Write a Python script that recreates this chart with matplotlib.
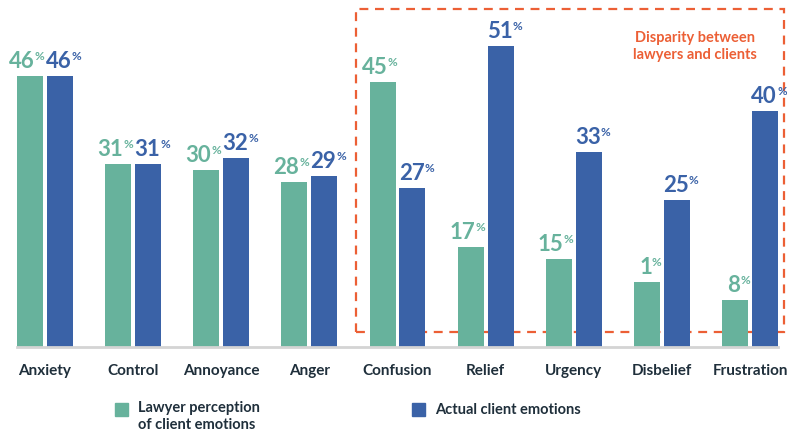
import matplotlib.pyplot as plt
from matplotlib.patches import Rectangle
import numpy as np

plt.rcParams['font.family'] = ['Lato', 'DejaVu Sans']

categories = ["Anxiety", "Control", "Annoyance", "Anger", "Confusion",
              "Relief", "Urgency", "Disbelief", "Frustration"]
lawyer = [46, 31, 30, 28, 45, 17, 15, 11, 8]
client = [46, 31, 32, 29, 27, 51, 33, 25, 40]
lawyer_labels = ["46", "31", "30", "28", "45", "17", "15", "1", "8"]
client_labels = ["46", "31", "32", "29", "27", "51", "33", "25", "40"]
legend_names = ["Lawyer perception\nof client emotions", "Actual client emotions"]
callout = "Disparity between\nlawyers and clients"

green = "#67b29c"
blue = "#3a62a7"
orange = "#ec5f35"
dark = "#1f2f3b"

W, H = 787, 434
fig = plt.figure(figsize=(W / 100, H / 100), dpi=100)
ax = fig.add_axes([17 / W, (H - 347) / H, (778 - 17) / W, (347 - 11) / H])

x = np.arange(len(categories))
bw = 0.295
off = 0.17
ax.bar(x - off, lawyer, bw, color=green, zorder=2)
ax.bar(x + off, client, bw, color=blue, zorder=2)

ax.set_xlim(-off - bw / 2, len(categories) - 1 + off + bw / 2)
ax.set_ylim(0, 57)

# value labels: big number + small superscript %
for xs, vals, labs, col, dx in [(x - off, lawyer, lawyer_labels, green, 5),
                                (x + off, client, client_labels, blue, 12)]:
    for xi, v, lab in zip(xs, vals, labs):
        ax.annotate(lab, (xi, v), xytext=(dx, 4), textcoords='offset pixels',
                    ha='right', va='bottom', fontsize=16, fontweight='bold',
                    color=col, zorder=3)
        ax.annotate("%", (xi, v), xytext=(dx, 14), textcoords='offset pixels',
                    ha='left', va='bottom', fontsize=8.5, fontweight='bold',
                    color=col, zorder=3)

# dashed box around the disparity groups
box = Rectangle((3.53, 2.5), 8.38 - 3.53, 57.4 - 2.5, fill=False,
                edgecolor=orange, linewidth=1.6, linestyle=(0, (4, 3)),
                clip_on=False, zorder=1)
ax.add_patch(box)
ax.text(7.38, 51.0, callout, ha='center', va='center', fontsize=10.5,
        fontweight='bold', color=orange, linespacing=1.3)

for s in ['top', 'right', 'left']:
    ax.spines[s].set_visible(False)
ax.spines['bottom'].set_color('#d4d4d4')
ax.spines['bottom'].set_linewidth(2)
ax.set_yticks([])
ax.set_xticks(x)
ax.set_xticklabels(categories, fontsize=11, fontweight='bold', color=dark)
ax.tick_params(axis='x', length=0, pad=12)

# legend drawn by hand
for (sx, sy, col), name, (tx, ty) in zip(
        [(115, 403, green), (412, 403, blue)], legend_names,
        [(138, 401), (435, 410)]):
    fig.add_artist(Rectangle((sx / W, 1 - (sy + 13) / H), 13 / W, 13 / H,
                             color=col, transform=fig.transFigure))
    fig.text(tx / W, 1 - ty / H, name, ha='left',
             va='top' if '\n' in name else 'center', fontsize=10.5,
             fontweight='bold', color=dark, linespacing=1.25)

fig.savefig("out.png", dpi=100)
